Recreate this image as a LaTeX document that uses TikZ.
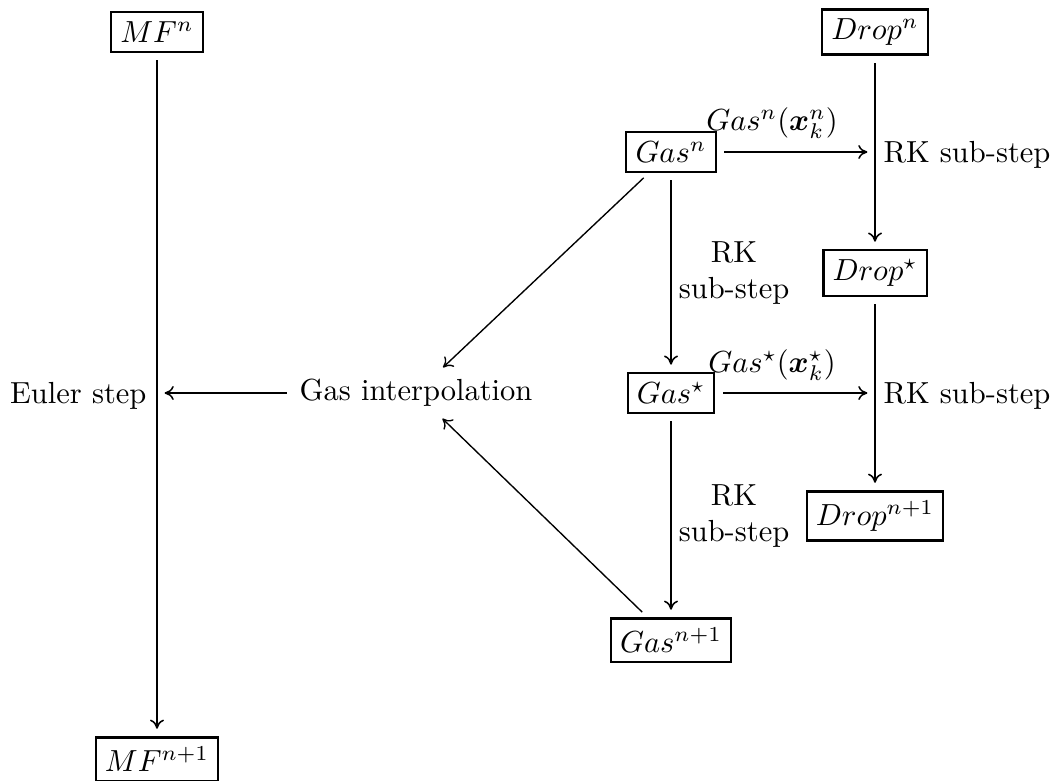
\documentclass[tikz,border=0pt]{standalone}
\usepackage{amsmath}
\usetikzlibrary{arrows.meta}
\begin{document}
\begin{tikzpicture}[x=0.32787pt,y=-0.32787pt,
  box/.style={draw,line width=0.7pt,inner sep=3pt},
  arr/.style={line width=0.5pt,-{To[length=3pt,width=4.6pt]},shorten <=2.5pt,shorten >=2.5pt},
  plain/.style={inner sep=3pt}]
\useasboundingbox (0,0) rectangle (1053,780);
% boxed nodes
\node[box] (MFn) at (157,32) {$MF^n$};
\node[box] (MFn1) at (157,759) {$MF^{n+1}$};
\node[box] (Dropn) at (875,32) {$Drop^n$};
\node[box] (Drops) at (875,273) {$Drop^\star$};
\node[box] (Dropn1) at (875,516) {$Drop^{n+1}$};
\node[box] (Gasn) at (671,152) {$Gas^n$};
\node[box] (Gass) at (671,393) {$Gas^\star$};
\node[box] (Gasn1) at (671,640) {$Gas^{n+1}$};
% plain text nodes
\node[plain] (gi) at (416,393) {Gas interpolation};
\node[anchor=base east,inner sep=0pt] (euler) at (147,403) {Euler step};
\node[anchor=base west,inner sep=0pt] (rk1) at (883,162) {RK sub-step};
\node[anchor=base west,inner sep=0pt] (rk2) at (883,403) {RK sub-step};
\node[align=center,inner sep=0pt] (rk3) at (734,273) {RK\\sub-step};
\node[align=center,inner sep=0pt] (rk4) at (734,516) {RK\\sub-step};
\node[inner sep=0pt] (l1) at (772,123) {$Gas^n(\boldsymbol{x}_k^n)$};
\node[inner sep=0pt] (l2) at (772,365) {$Gas^\star(\boldsymbol{x}_k^\star)$};
% coordinates on vertical arrows
\coordinate (mfmid) at (157,393);
\coordinate (d1) at (875,152);
\coordinate (d2) at (875,393);
% connectors
\draw[arr] (MFn) -- (MFn1);
\draw[arr] (Dropn) -- (Drops);
\draw[arr] (Drops) -- (Dropn1);
\draw[arr] (Gasn) -- (Gass);
\draw[arr] (Gass) -- (Gasn1);
\draw[arr] (Gasn) -- (d1);
\draw[arr] (Gass) -- (d2);
\draw[arr,shorten <=1pt] (gi) -- (mfmid);
\draw[arr,line width=0.45pt,shorten >=1pt] (Gasn) -- (gi);
\draw[arr,line width=0.45pt,shorten >=1pt] (Gasn1) -- (gi);
\end{tikzpicture}
\end{document}
